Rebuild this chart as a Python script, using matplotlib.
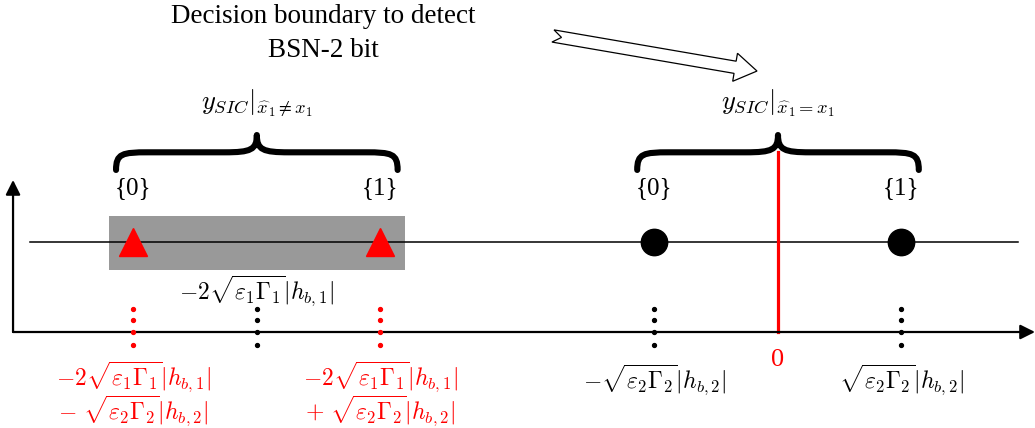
import numpy as np
import matplotlib.pyplot as plt
from matplotlib.path import Path
from matplotlib.patches import PathPatch, Rectangle, Polygon

plt.rcParams['mathtext.fontset'] = 'cm'
plt.rcParams['font.family'] = ['Liberation Serif', 'DejaVu Serif']

# === Constellation values (unit = sqrt(eps2*Gamma2)|h_b,2|) ===
a = 1.0            # sqrt(eps2 Gamma2)|h_b,2|
b = 2.11           # sqrt(eps1 Gamma1)|h_b,1|
shift = -2 * b     # -2 sqrt(eps1 Gamma1)|h_b,1|

wrong_pts = [shift - a, shift + a]   # y_SIC when x1 detected wrongly
right_pts = [-a, a]                  # y_SIC when x1 detected correctly
threshold = 0.0
bit_labels = ['{0}', '{1}']

wrong_lbls = [
    r'$-2\sqrt{\varepsilon_1\Gamma_1}|h_{b,1}|$' + '\n' + r'$-\ \sqrt{\varepsilon_2\Gamma_2}|h_{b,2}|$',
    r'$-2\sqrt{\varepsilon_1\Gamma_1}|h_{b,1}|$' + '\n' + r'$+\ \sqrt{\varepsilon_2\Gamma_2}|h_{b,2}|$',
]
right_lbls = [r'$-\sqrt{\varepsilon_2\Gamma_2}|h_{b,2}|$', r'$\sqrt{\varepsilon_2\Gamma_2}|h_{b,2}|$']
shift_lbl = r'$-2\sqrt{\varepsilon_1\Gamma_1}|h_{b,1}|$'

# === Figure: 1 data unit = 123.5 px both ways ===
fig = plt.figure(figsize=(10.35, 4.28), dpi=100)
ax = fig.add_axes([0, 0, 1, 1])
ax.set_xlim(-6.2996, 2.081)
ax.set_ylim(-0.7773, 2.6883)
ax.axis('off')

sig_y = 0.729

# axes with arrows
x_start = -6.194
ax.annotate('', xy=(2.081, 0), xytext=(x_start, 0),
            arrowprops=dict(arrowstyle='-|>', lw=1.6, color='k', mutation_scale=22,
                            shrinkA=0, shrinkB=0))
ax.annotate('', xy=(x_start, 1.231), xytext=(x_start, 0),
            arrowprops=dict(arrowstyle='-|>', lw=1.6, color='k', mutation_scale=22,
                            shrinkA=0, shrinkB=0))

# gray region around the wrong-detection points
pad = 0.2
ax.add_patch(Rectangle((wrong_pts[0] - pad, 0.502), wrong_pts[1] - wrong_pts[0] + 2 * pad, 0.437,
                       facecolor='#999999', edgecolor='none', zorder=1))

# signal line
ax.plot([-6.06, 1.94], [sig_y, sig_y], color='k', lw=1.1, zorder=2)

# decision boundary
ax.plot([threshold, threshold], [0, 1.457], color='red', lw=2.3, zorder=2)

# points
ax.plot(wrong_pts, [sig_y] * 2, linestyle='none', marker='^', ms=20, color='red', zorder=3)
ax.plot(right_pts, [sig_y] * 2, linestyle='none', marker='o', ms=19, color='k', zorder=3)

# dotted guides
dot_y = [0.19, 0.094, 0.0, -0.105]
for x in wrong_pts:
    ax.plot([x] * 4, dot_y, linestyle='none', marker='o', ms=2.8, color='red', zorder=4)
for x in [shift] + right_pts:
    ax.plot([x] * 4, dot_y, linestyle='none', marker='o', ms=2.8, color='k', zorder=4)


def brace(xc, half, yb, ym, yt):
    r = 0.26
    x0, x1 = xc - half, xc + half
    verts = [(x0, yb), (x0, ym - 0.01), (x0 + 0.05, ym), (x0 + r, ym),
             (xc - r, ym), (xc - 0.05, ym), (xc, ym + 0.02), (xc, yt),
             (xc, ym + 0.02), (xc + 0.05, ym), (xc + r, ym),
             (x1 - r, ym), (x1 - 0.05, ym), (x1, ym - 0.01), (x1, yb)]
    codes = [Path.MOVETO, Path.CURVE4, Path.CURVE4, Path.CURVE4,
             Path.LINETO, Path.CURVE4, Path.CURVE4, Path.CURVE4,
             Path.CURVE4, Path.CURVE4, Path.CURVE4,
             Path.LINETO, Path.CURVE4, Path.CURVE4, Path.CURVE4]
    ax.add_patch(PathPatch(Path(verts, codes), facecolor='none', edgecolor='k',
                           lw=4.4, capstyle='round', joinstyle='round', zorder=3))


brace(shift, 1.14, 1.312, 1.455, 1.595)
brace(threshold, 1.14, 1.312, 1.455, 1.595)

# bit labels
for pts in (wrong_pts, right_pts):
    for x, lbl in zip(pts, bit_labels):
        ax.text(x, 1.166, lbl, ha='center', va='center', fontsize=18)

# y_SIC labels
ax.text(shift, 1.854, r'$y_{SIC}|_{\widehat{x}_1 \neq x_1}$', ha='center', va='center', fontsize=19)
ax.text(threshold, 1.854, r'$y_{SIC}|_{\widehat{x}_1 = x_1}$', ha='center', va='center', fontsize=19)

# value labels
ax.text(shift, 0.332, shift_lbl, ha='center', va='center', fontsize=17)
for x, lbl in zip(wrong_pts, wrong_lbls):
    ax.text(x, -0.506, lbl, ha='center', va='center', fontsize=17, color='red', linespacing=0.95)
for x, lbl in zip(right_pts, right_lbls):
    ax.text(x, -0.389, lbl, ha='center', va='center', fontsize=17)
ax.text(threshold, -0.227, '0', ha='center', va='center', fontsize=19, color='red')

# title text
ax.text(-3.684, 2.551, 'Decision boundary to detect', ha='center', va='center', fontsize=19.5)
ax.text(-3.684, 2.283, 'BSN-2 bit', ha='center', va='center', fontsize=19.5)

# hollow arrow pointing at the decision boundary
tail = np.array([-1.822, 2.397])
tip = np.array([-0.170, 2.113])
d = tip - tail
L = np.hypot(*d)
u = d / L
n = np.array([-u[1], u[0]])
hw, hh, hl, notch = 0.05, 0.115, 0.18, 0.07
local = [(0, hw), (L - hl, hw), (L - hl, hh), (L, 0), (L - hl, -hh), (L - hl, -hw), (0, -hw), (notch, 0)]
poly = [tail + s * u + t * n for s, t in local]
ax.add_patch(Polygon(poly, closed=True, facecolor='white', edgecolor='k', lw=0.9, zorder=3))

fig.savefig('out.png', dpi=100)
